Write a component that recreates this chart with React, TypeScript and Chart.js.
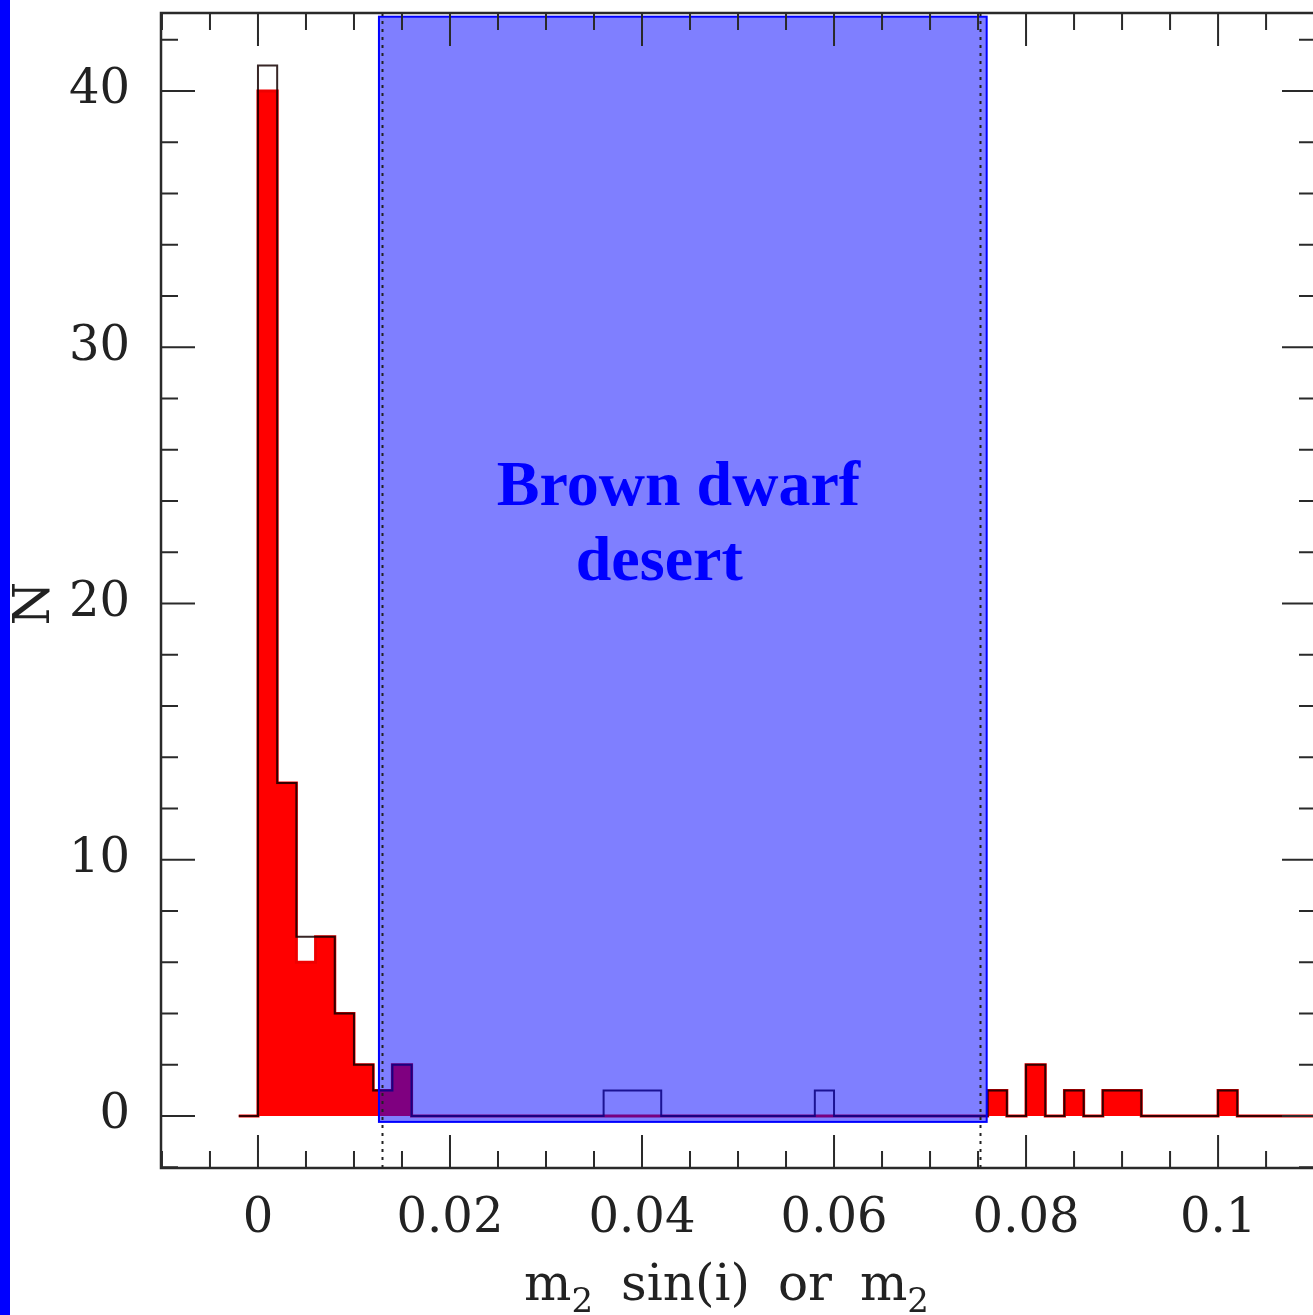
import React, { useEffect, useRef } from 'react';
import { Chart, registerables } from 'chart.js';

Chart.register(...registerables);

// ---- data ----
const BIN_START = -0.002;
const BIN_WIDTH = 0.002;
// counts per 0.002-wide bin, first bin starts at -0.002
const RED_COUNTS = [
  0, 40, 13, 6, 7, 4, 2, 1, 2,
  0, 0, 0, 0, 0, 0, 0, 0, 0, 0,
  0, 0, 0, 0, 0, 0, 0, 0, 0, 0,
  0, 0, 0, 0, 0, 0, 0, 0, 0, 0,
  1, 0, 2, 0, 1, 0, 1, 1, 0, 0, 0, 0, 1, 0, 0, 0, 0, 0,
];
const OUTLINE_COUNTS = [
  0, 41, 13, 7, 7, 4, 2, 1, 2,
  0, 0, 0, 0, 0, 0, 0, 0, 0, 0,
  1, 1, 1,
  0, 0, 0, 0, 0, 0, 0, 0,
  1,
  0, 0, 0, 0, 0, 0, 0, 0,
  1, 0, 2, 0, 1, 0, 1, 1, 0, 0, 0, 0, 1, 0, 0, 0, 0, 0,
];
const X_TICKS = [0, 0.02, 0.04, 0.06, 0.08, 0.1];
const X_TICK_LABELS = ['0', '0.02', '0.04', '0.06', '0.08', '0.1'];
const Y_TICKS = [0, 10, 20, 30, 40];
const Y_TICK_LABELS = ['0', '10', '20', '30', '40'];
// x title: m₂ sin(i) or m₂  (pieces: [text, isSubscript])
const X_TITLE_PARTS: [string, boolean][] = [
  ['m', false], ['2', true], [' ', false], ['sin(i)', false], [' ', false],
  ['or', false], [' ', false], ['m', false], ['2', true],
];
const Y_TITLE = 'N';
const DESERT_X = [0.0126, 0.0759];
const DESERT_Y = [-0.23, 42.9];
const DOTTED_X = [0.0129, 0.0752];
const DESERT_LABEL = ['Brown dwarf', 'desert'];
const DESERT_LABEL_X = [0.0438, 0.0418];
const DESERT_LABEL_Y = [23.84, 20.92];

const X_MIN = -0.0101;
const X_MAX = 0.1102;
const Y_MIN = -2.029;
const Y_MAX = 43.044;

const FONT = 'DejaVu Serif';

function stepPoints(counts: number[]) {
  const pts = counts.map((c, i) => ({ x: BIN_START + i * BIN_WIDTH, y: c }));
  pts.push({ x: BIN_START + counts.length * BIN_WIDTH, y: 0 });
  return pts;
}

const overlayPlugin = {
  id: 'overlay',
  afterDraw(chart: any) {
    const { ctx, chartArea: a, scales } = chart;
    const x = scales.x;
    const y = scales.y;
    ctx.save();
    // desert box
    const bx0 = x.getPixelForValue(DESERT_X[0]);
    const bx1 = x.getPixelForValue(DESERT_X[1]);
    const by0 = y.getPixelForValue(DESERT_Y[1]);
    const by1 = y.getPixelForValue(DESERT_Y[0]);
    ctx.fillStyle = 'rgba(0,0,255,0.5)';
    ctx.fillRect(bx0, by0, bx1 - bx0, by1 - by0);
    ctx.strokeStyle = '#0000ff';
    ctx.lineWidth = 2;
    ctx.strokeRect(bx0, by0, bx1 - bx0, by1 - by0);
    // dotted lines
    ctx.setLineDash([3, 5]);
    ctx.strokeStyle = '#222';
    ctx.lineWidth = 2;
    DOTTED_X.forEach((v) => {
      const px = Math.round(x.getPixelForValue(v)) + 0.5;
      ctx.beginPath();
      ctx.moveTo(px, a.top);
      ctx.lineTo(px, a.bottom);
      ctx.stroke();
    });
    ctx.setLineDash([]);
    // frame
    ctx.strokeStyle = '#2a2a2a';
    ctx.lineWidth = 2.5;
    ctx.strokeRect(a.left, a.top, a.right - a.left, a.bottom - a.top);
    // ticks
    ctx.lineWidth = 2;
    ctx.beginPath();
    for (let k = -2; k <= 22; k++) {
      const v = k * 0.005;
      if (v < X_MIN || v > X_MAX) continue;
      const px = x.getPixelForValue(v);
      const major = k % 4 === 0;
      const len = major ? 33 : 17;
      ctx.moveTo(px, a.bottom);
      ctx.lineTo(px, a.bottom - len);
      ctx.moveTo(px, a.top);
      ctx.lineTo(px, a.top + len);
    }
    for (let k = -1; k <= 21; k++) {
      const v = k * 2;
      if (v < Y_MIN || v > Y_MAX) continue;
      const py = y.getPixelForValue(v);
      const major = k % 5 === 0;
      const len = major ? 34 : 17;
      ctx.moveTo(a.left, py);
      ctx.lineTo(a.left + len, py);
      ctx.moveTo(a.right, py);
      ctx.lineTo(a.right - len, py);
    }
    ctx.stroke();
    // desert label
    ctx.fillStyle = '#0000ff';
    ctx.font = 'bold 64px "Liberation Serif"';
    ctx.textAlign = 'center';
    ctx.textBaseline = 'alphabetic';
    DESERT_LABEL.forEach((t, i) => {
      ctx.fillText(t, x.getPixelForValue(DESERT_LABEL_X[i]), y.getPixelForValue(DESERT_LABEL_Y[i]));
    });
    // x axis title with subscripts
    const mainFont = `50px "${FONT}"`;
    const subFont = `34px "${FONT}"`;
    const gap = 28;
    const widths = X_TITLE_PARTS.map(([t, sub]) => {
      if (t === ' ') return gap;
      ctx.font = sub ? subFont : mainFont;
      return ctx.measureText(t).width;
    });
    const total = widths.reduce((s, w) => s + w, 0);
    let cx = (a.left + a.right) / 2 - total / 2 - 12;
    const baseY = 1300;
    ctx.fillStyle = '#222';
    ctx.textAlign = 'left';
    X_TITLE_PARTS.forEach(([t, sub], i) => {
      if (t !== ' ') {
        ctx.font = sub ? subFont : mainFont;
        ctx.fillText(t, cx, sub ? baseY + 12 : baseY);
      }
      cx += widths[i];
    });
    // y axis title
    ctx.save();
    ctx.translate(36, y.getPixelForValue(20));
    ctx.rotate(-Math.PI / 2);
    ctx.font = `50px "${FONT}"`;
    ctx.textAlign = 'center';
    ctx.textBaseline = 'middle';
    ctx.fillText(Y_TITLE, 0, 0);
    ctx.restore();
    ctx.restore();
  },
};

export default function App() {
  const ref = useRef<HTMLCanvasElement>(null);
  useEffect(() => {
    if (!ref.current) return;
    const chart = new Chart(ref.current, {
      type: 'line',
      data: {
        datasets: [
          {
            label: 'all',
            data: stepPoints(RED_COUNTS),
            stepped: 'before',
            fill: 'origin',
            backgroundColor: '#ff0000',
            borderColor: '#ee0000',
            borderWidth: 3,
            pointRadius: 0,
            order: 2,
          },
          {
            label: 'outline',
            data: stepPoints(OUTLINE_COUNTS),
            stepped: 'before',
            fill: false,
            borderColor: 'rgba(20,0,0,0.85)',
            borderWidth: 2,
            pointRadius: 0,
            order: 1,
          },
        ],
      },
      options: {
        responsive: false,
        animation: false,
        devicePixelRatio: 1,
        layout: { padding: { left: 0, top: 13, right: 24, bottom: 0 } },
        plugins: { legend: { display: false }, tooltip: { enabled: false } },
        scales: {
          x: {
            type: 'linear',
            min: X_MIN,
            max: X_MAX,
            grid: { display: false, drawTicks: false },
            border: { display: false },
            afterBuildTicks: (s: any) => {
              s.ticks = X_TICKS.map((v) => ({ value: v }));
            },
            afterFit: (s: any) => {
              s.height = 147;
              s.paddingLeft = 0;
              s.paddingRight = 0;
              s.paddingTop = 0;
              s.paddingBottom = 0;
            },
            ticks: {
              autoSkip: false,
              maxRotation: 0,
              padding: 23,
              color: '#222',
              font: { size: 48, family: FONT },
              callback: (_v: any, i: number) => X_TICK_LABELS[i],
            },
            title: { display: false },
          },
          y: {
            type: 'linear',
            min: Y_MIN,
            max: Y_MAX,
            grid: { display: false, drawTicks: false },
            border: { display: false },
            afterBuildTicks: (s: any) => {
              s.ticks = Y_TICKS.map((v) => ({ value: v }));
            },
            afterFit: (s: any) => {
              s.width = 161;
              s.paddingLeft = 0;
              s.paddingRight = 0;
              s.paddingTop = 0;
              s.paddingBottom = 0;
            },
            ticks: {
              autoSkip: false,
              padding: 31,
              color: '#222',
              font: { size: 48, family: FONT },
              callback: (_v: any, i: number) => Y_TICK_LABELS[i],
            },
            title: { display: false },
          },
        },
      },
      plugins: [overlayPlugin],
    });
    return () => chart.destroy();
  }, []);

  return (
    <div
      style={{
        position: 'fixed',
        left: 0,
        top: 0,
        width: 1313,
        height: 1315,
        overflow: 'hidden',
        background: '#fff',
      }}
    >
      <canvas
        ref={ref}
        width={1340}
        height={1315}
        style={{ position: 'absolute', left: 0, top: 0, width: 1340, height: 1315 }}
      />
      <div
        style={{
          position: 'absolute',
          left: 0,
          top: 0,
          width: 10,
          height: 1315,
          background: '#0000ff',
        }}
      />
    </div>
  );
}
